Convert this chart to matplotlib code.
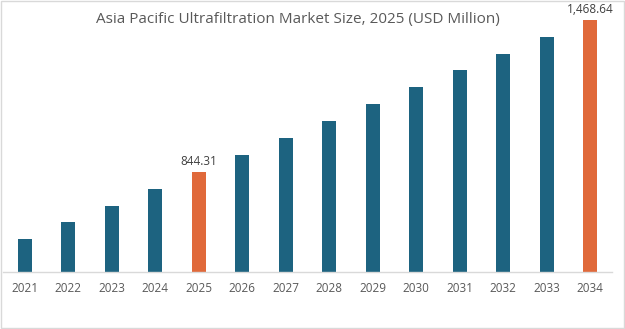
import matplotlib
matplotlib.use("Agg")
import matplotlib.pyplot as plt
from matplotlib.patches import Rectangle

years = ['2021', '2022', '2023', '2024', '2025', '2026', '2027',
         '2028', '2029', '2030', '2031', '2032', '2033', '2034']
values = [569.1, 639.0, 704.7, 774.5, 844.31, 914.1, 984.0,
          1053.8, 1123.6, 1193.4, 1263.2, 1329.0, 1398.7, 1468.64]
highlight = {'2025': '844.31', '2034': '1,468.64'}

teal = '#1d6380'
orange = '#e0693a'

plt.rcParams['font.family'] = ['Open Sans', 'DejaVu Sans']

fig = plt.figure(figsize=[6.25, 3.29], dpi=100)
# baseline at 272px from top, axes top at 10px
axs = fig.add_axes([3 / 625, 57 / 329, 609 / 625, 262 / 329])

colors = [orange if y in highlight else teal for y in years]
xpos = range(len(years))
axs.bar(xpos, values, width=0.32, color=colors)

for i, (y, v) in enumerate(zip(years, values)):
    if y in highlight:
        axs.annotate(highlight[y], (i, v), xytext=(0, 3), textcoords='offset points',
                     ha='center', va='bottom', fontsize=8.5, color='#404040')

axs.set_xlim(-0.5, len(years) - 0.5)
axs.set_ylim(433.6, 1509.6)
axs.set_xticks(list(xpos))
axs.set_xticklabels(years)
axs.tick_params(axis='x', length=0, pad=7, labelsize=8.5, labelcolor='#595959')
axs.set_yticks([])
axs.spines[['left', 'right', 'top']].set_visible(False)
axs.spines['bottom'].set_color('#d9d9d9')
axs.spines['bottom'].set_linewidth(1)

fig.text(0.477, 0.94, 'Asia Pacific Ultrafiltration Market Size, 2025 (USD Million)',
         ha='center', va='center', fontsize=11, color='#595959')

fig.patches.append(Rectangle((0.001, 0.002), 0.997, 0.995, transform=fig.transFigure,
                             fill=False, edgecolor='#d9d9d9', linewidth=1))

fig.savefig('out.png', dpi=100)
